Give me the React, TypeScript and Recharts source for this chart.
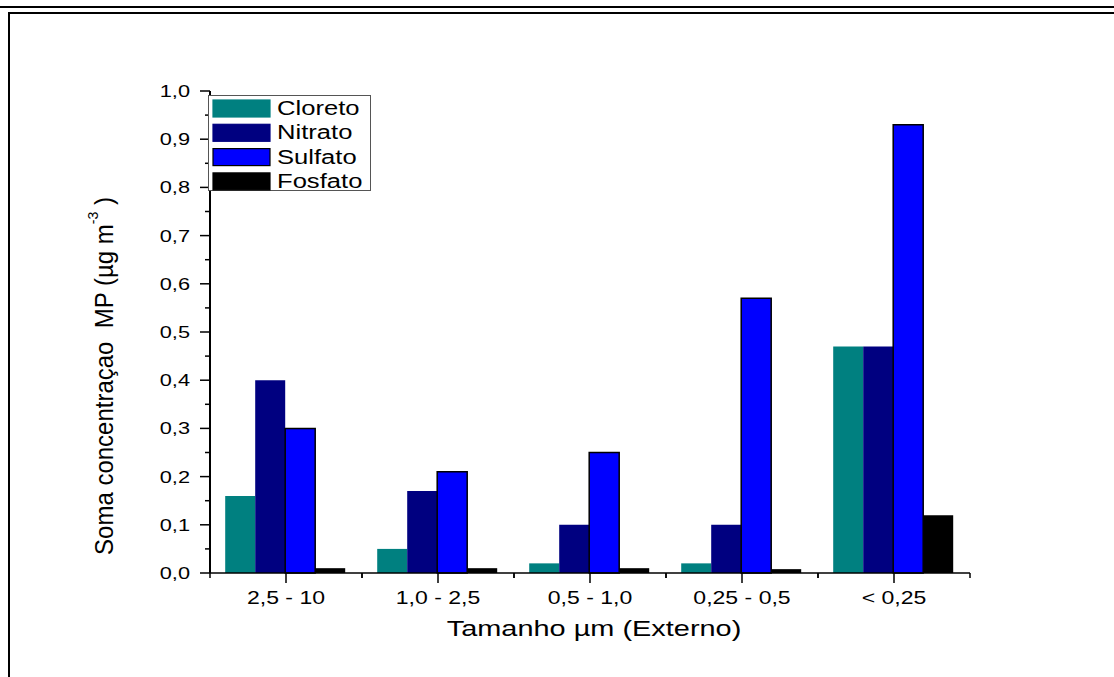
import React from "react";
import { Bar, BarChart, XAxis, YAxis } from "recharts";

// particle size classes (µm)
const sizes = ["2,5 - 10", "1,0 - 2,5", "0,5 - 1,0", "0,25 - 0,5", "< 0,25"];
const cloreto = [0.16, 0.05, 0.02, 0.02, 0.47];
const nitrato = [0.4, 0.17, 0.1, 0.1, 0.47];
const sulfato = [0.3, 0.21, 0.25, 0.57, 0.93];
const fosfato = [0.01, 0.01, 0.01, 0.008, 0.12];
const yTicks = [0, 0.05, 0.1, 0.15, 0.2, 0.25, 0.3, 0.35, 0.4, 0.45, 0.5, 0.55, 0.6, 0.65, 0.7, 0.75, 0.8, 0.85, 0.9, 0.95, 1.0];

const series = [
  { key: "Cloreto", color: "#008080", stroke: "none" },
  { key: "Nitrato", color: "#000080", stroke: "none" },
  { key: "Sulfato", color: "#0000ff", stroke: "#000" },
  { key: "Fosfato", color: "#000000", stroke: "none" },
];

const data = sizes.map((size, i) => ({
  size,
  Cloreto: cloreto[i],
  Nitrato: nitrato[i],
  Sulfato: sulfato[i],
  Fosfato: fosfato[i],
}));

const FONT = "'Liberation Sans', Arial, sans-serif";
const SX = 1.28; // horizontal text stretch
const W = 1000;
const H = 677;
const M = { top: 91, right: 30, left: 0, bottom: 0 };
const Y_W = 210;
const X_H = 104;
const PLOT_W = W - M.right - Y_W;

const comma = (v: number) => v.toFixed(1).replace(".", ",");

function YTick({ x, y, payload }: any) {
  const major = Math.round(payload.value * 100) % 10 === 0;
  return (
    <g>
      <line x1={x - (major ? 10 : 5)} x2={x} y1={y} y2={y} stroke="#000" strokeWidth={1.5} />
      {major && (
        <text
          transform={`translate(${x - 20},${y + 6}) scale(${SX},1)`}
          textAnchor="end"
          fontFamily={FONT}
          fontSize={17}
          fill="#000"
        >
          {comma(payload.value)}
        </text>
      )}
    </g>
  );
}

function XTick({ x, y, payload }: any) {
  const half = PLOT_W / sizes.length / 2;
  return (
    <g>
      <line x1={x} x2={x} y1={y} y2={y + 10} stroke="#000" strokeWidth={1.5} />
      <line x1={x - half} x2={x - half} y1={y} y2={y + 5} stroke="#000" strokeWidth={1.5} />
      <line x1={x + half} x2={x + half} y1={y} y2={y + 5} stroke="#000" strokeWidth={1.5} />
      <text
        transform={`translate(${x},${y + 31}) scale(${SX},1)`}
        textAnchor="middle"
        fontFamily={FONT}
        fontSize={18}
        fill="#000"
      >
        {payload.value}
      </text>
    </g>
  );
}

function LegendBox() {
  return (
    <svg width={164} height={97} style={{ display: "block" }}>
      <rect x={0.5} y={0.5} width={162} height={95} fill="#fff" stroke="#555" strokeWidth={1} />
      {series.map((s, i) => {
        const top = 5 + i * 24.3;
        return (
          <g key={s.key}>
            <rect
              x={5}
              y={top}
              width={57}
              height={17}
              fill={s.color}
              stroke={s.stroke === "none" ? s.color : s.stroke}
              strokeWidth={1.2}
            />
            <text
              transform={`translate(69,${top + 15}) scale(${SX},1)`}
              fontFamily={FONT}
              fontSize={20}
              fill="#000"
            >
              {s.key}
            </text>
          </g>
        );
      })}
    </svg>
  );
}

export default function App() {
  return (
    <div
      style={{
        position: "absolute",
        left: 0,
        top: 0,
        width: 1114,
        height: 677,
        background: "#fff",
        overflow: "hidden",
      }}
    >
      {/* page rules and frame */}
      <div style={{ position: "absolute", left: 0, top: 6, width: 1114, height: 2, background: "#000" }} />
      <div style={{ position: "absolute", left: 8, top: 12, width: 1106, height: 2, background: "#000" }} />
      <div style={{ position: "absolute", left: 8, top: 12, width: 2, height: 665, background: "#000" }} />

      <div style={{ position: "absolute", left: 0, top: 0 }}>
        <BarChart width={W} height={H} data={data} margin={M} barCategoryGap="10%" barGap={0}>
          <XAxis
            dataKey="size"
            height={X_H}
            interval={0}
            tickSize={0}
            tickMargin={0}
            tickLine={false}
            tick={<XTick />}
            axisLine={{ stroke: "#000", strokeWidth: 1.5 }}
            label={{
              content: () => (
                <text
                  transform={`translate(${Y_W + PLOT_W / 2 + 4},636) scale(${SX},1)`}
                  textAnchor="middle"
                  fontFamily={FONT}
                  fontSize={22.6}
                  fill="#000"
                >
                  Tamanho µm (Externo)
                </text>
              ),
            }}
          />
          <XAxis
            xAxisId="top"
            orientation="top"
            dataKey="size"
            height={0}
            tick={false}
            tickLine={false}
            axisLine={{ stroke: "#000", strokeWidth: 1.5 }}
          />
          <YAxis
            width={Y_W}
            domain={[0, 1]}
            ticks={yTicks}
            interval={0}
            tickSize={0}
            tickMargin={0}
            tickLine={false}
            tick={<YTick />}
            axisLine={{ stroke: "#000", strokeWidth: 2 }}
            label={{
              content: () => (
                <text
                  transform="translate(113,376) scale(1.08,1) rotate(-90)"
                  textAnchor="middle"
                  fontFamily={FONT}
                  fontSize={24}
                  fill="#000"
                  style={{ whiteSpace: "pre" }}
                >
                  <tspan>Soma concentraçao  MP (µg m</tspan>
                  <tspan dy={-14} fontSize={14}>-3</tspan>
                  <tspan dy={14}> )</tspan>
                </text>
              ),
            }}
          />
          <YAxis
            yAxisId="right"
            orientation="right"
            width={0}
            domain={[0, 1]}
            tick={false}
            tickLine={false}
            axisLine={{ stroke: "#000", strokeWidth: 2 }}
          />
          {series.map((s) => (
            <Bar
              key={s.key}
              dataKey={s.key}
              fill={s.color}
              stroke={s.stroke}
              strokeWidth={s.stroke === "none" ? 0 : 1.5}
              isAnimationActive={false}
            />
          ))}
        </BarChart>
      </div>

      <div style={{ position: "absolute", left: 208, top: 95 }}>
        <LegendBox />
      </div>
    </div>
  );
}
